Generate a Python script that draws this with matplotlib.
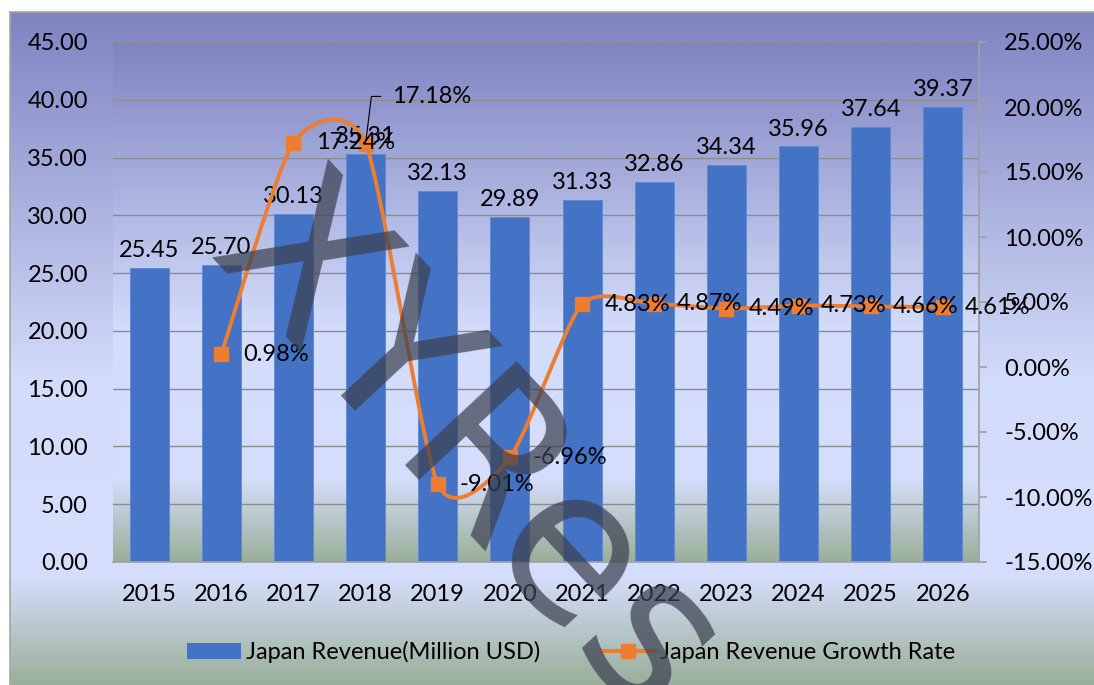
import numpy as np
import matplotlib
matplotlib.use('Agg')
import matplotlib.pyplot as plt
from matplotlib.colors import LinearSegmentedColormap
from matplotlib.patches import Patch
from matplotlib.lines import Line2D

years = ['2015', '2016', '2017', '2018', '2019', '2020', '2021', '2022', '2023', '2024', '2025', '2026']
revenue = [25.45, 25.70, 30.13, 35.31, 32.13, 29.89, 31.33, 32.86, 34.34, 35.96, 37.64, 39.37]
growth_years = years[1:]
growth = [0.98, 17.24, 17.18, -9.01, -6.96, 4.83, 4.87, 4.49, 4.73, 4.66, 4.61]
rev_ticks = [0, 5, 10, 15, 20, 25, 30, 35, 40, 45]
growth_ticks = [-15, -10, -5, 0, 5, 10, 15, 20, 25]
bar_label = 'Japan Revenue(Million USD)'
line_label = 'Japan Revenue Growth Rate'

BLUE = '#4472C4'
ORANGE = '#ED7D31'
FS = 17

plt.rcParams['font.family'] = ['Lato', 'DejaVu Sans']

W, H = 1094, 685
fig = plt.figure(figsize=(W / 100, H / 100), dpi=100)
fig.patch.set_facecolor('white')

cmap = LinearSegmentedColormap.from_list(
    'bg', [(0.0, '#7F84C2'), (0.55, '#D3DCFA'), (0.84, '#D5DEFC'), (1.0, '#9AAF99')])
grad = np.linspace(0, 1, 512).reshape(-1, 1)

# chart area background
bg = fig.add_axes([10 / W, 0, 1 - 10 / W, (H - 12) / H], zorder=-5)
bg.imshow(grad, cmap=cmap, aspect='auto', extent=[0, 1, 0, 1], interpolation='bilinear')
bg.set_xlim(0, 1); bg.set_ylim(0, 1)
bg.set_xticks([]); bg.set_yticks([])
for s in ['right', 'bottom']:
    bg.spines[s].set_visible(False)
for s in ['left', 'top']:
    bg.spines[s].set_color('#A6A6A6')
    bg.spines[s].set_linewidth(1.2)

# plot area
L, R, T, B = 113, 979, 42, 562
ax = fig.add_axes([L / W, (H - B) / H, (R - L) / W, (B - T) / H], zorder=0)
ax.imshow(grad, cmap=cmap, aspect='auto', extent=[0, 1, 0, 1],
          transform=ax.transAxes, zorder=-2, interpolation='bilinear')
x = np.arange(len(years))
ax.bar(x, revenue, width=0.54, color=BLUE, edgecolor='#5E88D2', linewidth=0.6, zorder=2)
ax.set_xlim(-0.5, len(years) - 0.5)
ax.set_ylim(0, 45)
ax.set_yticks(rev_ticks)
ax.set_yticklabels([f'{v:.2f}' for v in rev_ticks], fontsize=FS)
ax.set_xticks(x)
ax.set_xticklabels(years, fontsize=FS)
ax.tick_params(axis='x', length=0, pad=16)
ax.tick_params(axis='y', length=0, pad=18)
ax.yaxis.grid(True, color='#8C8C8C', linewidth=1.0)
ax.set_axisbelow(True)
for s in ['left', 'top', 'right']:
    ax.spines[s].set_visible(False)
ax.spines['bottom'].set_color('#A0A0A0')
ax.spines['bottom'].set_linewidth(1.2)
ax.patch.set_visible(False)

for i, v in enumerate(revenue):
    ax.annotate(f'{v:.2f}', (i, v), xytext=(0, 5), textcoords='offset points',
                ha='center', va='bottom', fontsize=FS, color='black', zorder=5)

# growth line on secondary axis
ax2 = ax.twinx()
ax2.set_ylim(-15, 25)
ax2.set_yticks(growth_ticks)
ax2.set_yticklabels([f'{v:.2f}%' for v in growth_ticks], fontsize=FS)
ax2.tick_params(axis='y', length=6, width=1.2, color='#A0A0A0', pad=12, direction='out')
for s in ['left', 'top', 'bottom']:
    ax2.spines[s].set_visible(False)
ax2.spines['right'].set_color('#A0A0A0')
ax2.spines['right'].set_linewidth(1.2)

gx = np.array([years.index(y) for y in growth_years], dtype=float)
gy = np.array(growth, dtype=float)

# smoothed curve (cubic Bezier through points, Catmull-Rom style tangents)
f = 0.68
px, py = [], []
n = len(gx)
for i in range(n - 1):
    p0 = np.array([gx[i], gy[i]])
    p3 = np.array([gx[i + 1], gy[i + 1]])
    pm = np.array([gx[i - 1], gy[i - 1]]) if i > 0 else p0
    pp = np.array([gx[i + 2], gy[i + 2]]) if i + 2 < n else p3
    c1 = p0 + (p3 - pm) / 6 * f
    c2 = p3 - (pp - p0) / 6 * f
    t = np.linspace(0, 1, 40)[:, None]
    seg = ((1 - t) ** 3) * p0 + 3 * ((1 - t) ** 2) * t * c1 + 3 * (1 - t) * t ** 2 * c2 + t ** 3 * p3
    px.extend(seg[:, 0]); py.extend(seg[:, 1])
ax2.plot(px, py, color=ORANGE, linewidth=2.8, zorder=3, solid_capstyle='round')
ax2.plot(gx, gy, linestyle='none', marker='s', markersize=10, color=ORANGE, zorder=4)

for xi, g in zip(gx, gy):
    if abs(g - 17.18) < 1e-9:
        ax2.annotate(f'{g:.2f}%', (xi, g), xytext=(19, 34), textcoords='offset points',
                     ha='left', va='center', fontsize=FS, color='black', zorder=6,
                     arrowprops=dict(arrowstyle='-', color='black', lw=0.8, shrinkA=6, shrinkB=2,
                                     relpos=(0, 0.5),
                                     connectionstyle='angle,angleA=0,angleB=83,rad=0'))
    else:
        ax2.annotate(f'{g:.2f}%', (xi, g), xytext=(16, 0), textcoords='offset points',
                     ha='left', va='center', fontsize=FS, color='black', zorder=6)

# legend
handles = [Patch(facecolor=BLUE, edgecolor='none'),
           Line2D([], [], color=ORANGE, linewidth=3, marker='s', markersize=10)]
fig.legend(handles, [bar_label, line_label], loc='center',
           bbox_to_anchor=(571 / W, 1 - 652 / H), ncol=2, frameon=False, fontsize=FS,
           handlelength=2.3, handletextpad=0.2, columnspacing=2.6)

# watermark
fig.text(466 / W, 1 - 452 / H, 'XYRes', fontsize=150, rotation=-47, rotation_mode='anchor',
         ha='center', va='center', color='#3B4050', alpha=0.72, fontweight='normal',
         family='DejaVu Sans', zorder=100)

fig.savefig('out.png', dpi=100)
